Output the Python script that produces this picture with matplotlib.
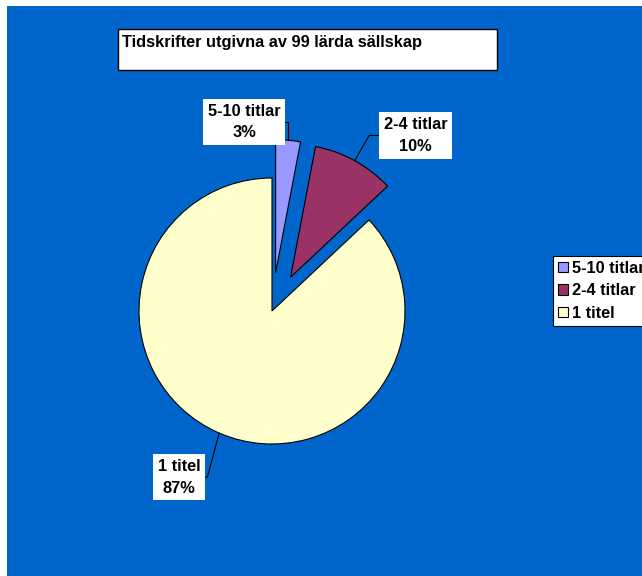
import numpy as np
import matplotlib
matplotlib.use("Agg")
import matplotlib.pyplot as plt
from matplotlib.patches import Rectangle

plt.rcParams['font.family'] = ['Liberation Sans', 'DejaVu Sans']

title = "Tidskrifter utgivna av 99 lärda sällskap"
categories = ["5-10 titlar", "2-4 titlar", "1 titel"]
percent = [3, 10, 87]
colors = ["#9999FF", "#993366", "#FFFFCC"]
explode = [0.29, 0.29, 0.0]

W, H = 642, 576
FS = 11.8
fig = plt.figure(figsize=(W / 100, H / 100), dpi=100)
fig.patch.set_facecolor("white")

# blue chart area
fig.patches.append(Rectangle((7 / W, 0), 1 - 7 / W, 1 - 6 / H, transform=fig.transFigure,
                             facecolor="#0066CC", edgecolor="none", zorder=-10))

# title box
fig.patches.append(Rectangle((118 / W, 1 - 70 / H), 379 / W, 41 / H, transform=fig.transFigure,
                             facecolor="white", edgecolor="black", linewidth=1.0, zorder=-5))
fig.text(122 / W, 1 - 42 / H, title, fontsize=FS, fontweight="bold", va="center", ha="left", zorder=2)

# pie axes: centre at (272, 311) px, radius 133 px
r_px = 133
cx, cy = 272, 311
ax = fig.add_axes([(cx - 1.5 * r_px) / W, (H - cy - 1.5 * r_px) / H, 3 * r_px / W, 3 * r_px / H])
ax.set_zorder(5)
wedges, _ = ax.pie(percent, colors=colors, explode=explode, startangle=90, counterclock=False,
                   radius=1.0, center=(0, 0), frame=True,
                   wedgeprops=dict(edgecolor="black", linewidth=0.8))
ax.set_xlim(-1.5, 1.5)
ax.set_ylim(-1.5, 1.5)
ax.set_aspect("equal")
ax.axis("off")

label_pos = [(-0.21, 1.42), (1.08, 1.32), (-0.70, -1.25)]
conn = ["angle,angleA=0,angleB=90", "angle,angleA=0,angleB=60", "angle,angleA=0,angleB=75"]
for w, cat, p, pos, cs, ex in zip(wedges, categories, percent, label_pos, conn, explode):
    mid = np.deg2rad((w.theta1 + w.theta2) / 2)
    x = (1 + ex) * np.cos(mid)
    y = (1 + ex) * np.sin(mid)
    ax.annotate(f"{cat}\n{p}%", xy=(x, y), xytext=pos, ha="center", va="center",
                fontsize=FS, fontweight="bold", linespacing=1.55,
                bbox=dict(boxstyle="square,pad=0.3", facecolor="white", edgecolor="none"),
                arrowprops=dict(arrowstyle="-", color="black", lw=0.8, connectionstyle=cs,
                                shrinkA=0, shrinkB=0))

leg = fig.legend(wedges, categories, loc="upper left", bbox_to_anchor=(553 / W, 1 - 256 / H),
                 frameon=True, fancybox=False, edgecolor="black", facecolor="white", framealpha=1,
                 prop=dict(size=FS, weight="bold"), handlelength=0.6, handleheight=0.6,
                 handletextpad=0.25, borderpad=0.3, labelspacing=0.45, borderaxespad=0)
leg.get_frame().set_linewidth(0.8)
leg.set_zorder(10)

fig.savefig("out.png", dpi=100)
